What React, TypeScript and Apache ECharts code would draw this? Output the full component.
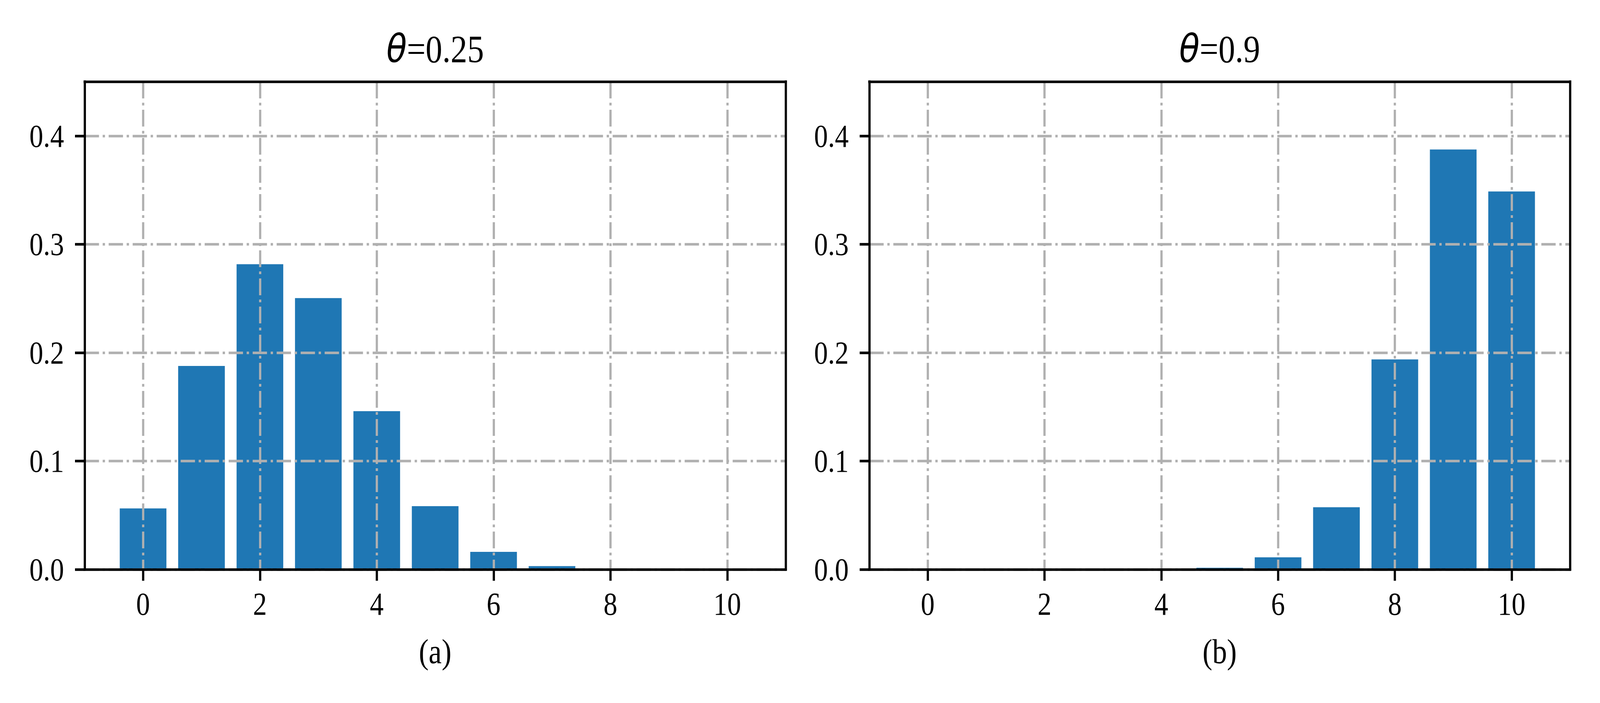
import React, { useEffect, useRef, useState } from 'react';
import * as echarts from 'echarts';

// ---- data ----
const successes = [0, 1, 2, 3, 4, 5, 6, 7, 8, 9, 10];
const probTheta025 = [0.0563, 0.1877, 0.2816, 0.2503, 0.146, 0.0584, 0.0162, 0.0031, 0.0004, 0.0, 0.0];
const probTheta09 = [0.0, 0.0, 0.0, 0.0, 0.0001, 0.0015, 0.0112, 0.0574, 0.1937, 0.3874, 0.3487];
const thetaLabels = ['0.25', '0.9'];
const panelTags = ['(a)', '(b)'];
const xTickValues = [0, 2, 4, 6, 8, 10];
const yTickValues = [0, 0.1, 0.2, 0.3, 0.4];

const panelsData = [probTheta025, probTheta09];

// ---- layout / style (designed on a 4800x1800 canvas) ----
const W = 4800;
const H = 1800;
const LW = 6.67;
const SERIF = '"Liberation Serif", "Times New Roman", serif';
const GRIDS = [
  { left: 254, width: 2103 },
  { left: 2608, width: 2102 },
];
const GRID_TOP = 209;
const GRID_H = 1249;

export default function App() {
  const ref = useRef<HTMLDivElement>(null);
  const [scale, setScale] = useState({ x: 1, y: 1 });

  useEffect(() => {
    const sx = Math.min(1, window.innerWidth / W);
    const sy = Math.min(1, window.innerHeight / H);
    setScale({ x: sx, y: sy });
  }, []);

  useEffect(() => {
    if (!ref.current) return;
    const chart = echarts.init(ref.current, null, { renderer: 'svg', width: W, height: H });

    const grid: any[] = [];
    const xAxis: any[] = [];
    const yAxis: any[] = [];
    const series: any[] = [];
    const graphic: any[] = [];

    const spine = { show: true, onZero: false, lineStyle: { color: '#000', width: LW, cap: 'square' } };
    const gridLine = { show: true, lineStyle: { color: '#b0b0b0', width: LW, type: [43, 11, 7, 11] } };

    GRIDS.forEach((g, i) => {
      grid.push({ left: g.left, top: GRID_TOP, width: g.width, height: GRID_H, containLabel: false });
      const xBase = { gridIndex: i, type: 'value', min: -1, max: 11 };
      const yBase = { gridIndex: i, type: 'value', min: 0, max: 0.45 };
      // bottom axis: spine, ticks, labels
      xAxis.push({
        ...xBase,
        position: 'bottom',
        z: 5,
        axisLine: spine,
        axisTick: { show: true, inside: false, length: 29, customValues: xTickValues, lineStyle: { color: '#000', width: LW } },
        axisLabel: {
          show: true,
          customValues: xTickValues,
          margin: 88,
          verticalAlign: 'middle',
          fontFamily: SERIF,
          fontSize: 83,
          color: '#000',
          formatter: (v: number) => String(v),
        },
        splitLine: { show: false },
      });
      // top spine
      xAxis.push({
        ...xBase,
        position: 'top',
        z: 5,
        axisLine: spine,
        axisTick: { show: false },
        axisLabel: { show: false },
        splitLine: { show: false },
      });
      // vertical grid lines (above bars, below spines)
      xAxis.push({
        ...xBase,
        position: 'bottom',
        z: 3,
        axisLine: { show: false },
        axisTick: { show: false, customValues: xTickValues },
        axisLabel: { show: false, customValues: xTickValues },
        splitLine: gridLine,
      });

      yAxis.push({
        ...yBase,
        position: 'left',
        z: 5,
        axisLine: spine,
        axisTick: { show: true, inside: false, length: 29, customValues: yTickValues, lineStyle: { color: '#000', width: LW } },
        axisLabel: {
          show: true,
          customValues: yTickValues,
          margin: 62,
          fontFamily: SERIF,
          fontSize: 83,
          color: '#000',
          formatter: (v: number) => v.toFixed(1),
        },
        splitLine: { show: false },
      });
      yAxis.push({
        ...yBase,
        position: 'right',
        z: 5,
        axisLine: spine,
        axisTick: { show: false },
        axisLabel: { show: false },
        splitLine: { show: false },
      });
      yAxis.push({
        ...yBase,
        position: 'left',
        z: 3,
        axisLine: { show: false },
        axisTick: { show: false, customValues: yTickValues },
        axisLabel: { show: false, customValues: yTickValues },
        splitLine: gridLine,
      });

      series.push({
        type: 'bar',
        xAxisIndex: 3 * i,
        yAxisIndex: 3 * i,
        data: successes.map((k, j) => [k, panelsData[i][j]]),
        barWidth: 140,
        itemStyle: { color: '#1f77b4' },
        z: 2,
        silent: true,
      });

      const cx = g.left + g.width / 2;
      graphic.push({
        type: 'text',
        x: cx,
        y: 125,
        style: {
          text: '{t|θ}{n|=' + thetaLabels[i] + '}',
          align: 'center',
          verticalAlign: 'middle',
          rich: {
            t: { fontFamily: '"DejaVu Sans"', fontStyle: 'italic', fontSize: 100, fill: '#000' },
            n: { fontFamily: SERIF, fontSize: 100, fill: '#000' },
          },
        },
      });
      graphic.push({
        type: 'text',
        x: cx,
        y: 1668,
        style: {
          text: panelTags[i],
          align: 'center',
          verticalAlign: 'middle',
          fontFamily: SERIF,
          fontSize: 88,
          fill: '#000',
        },
      });
    });

    chart.setOption({
      animation: false,
      backgroundColor: '#fff',
      grid,
      xAxis,
      yAxis,
      series,
      graphic,
    });

    return () => chart.dispose();
  }, []);

  return (
    <div
      ref={ref}
      style={{
        position: 'fixed',
        left: 0,
        top: 0,
        width: W,
        height: H,
        background: '#fff',
        transform: `scale(${scale.x}, ${scale.y})`,
        transformOrigin: '0 0',
      }}
    />
  );
}
